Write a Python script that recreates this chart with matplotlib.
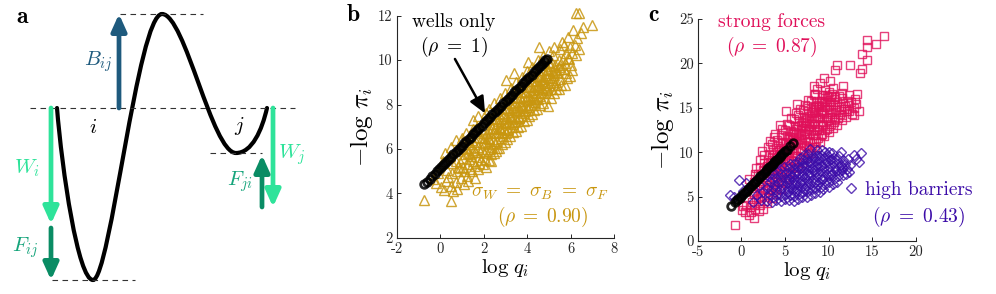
import numpy as np
import matplotlib.pyplot as plt
from matplotlib.path import Path
from matplotlib.patches import PathPatch

plt.rcParams['font.family'] = 'cmr10'
plt.rcParams['mathtext.fontset'] = 'cm'
plt.rcParams['axes.unicode_minus'] = False
plt.rcParams['axes.formatter.use_mathtext'] = False

GOLD = '#c8960f'
PINK = '#e0105a'
PURPLE = '#3c0ca8'
BLUE = '#1e5a7d'
LGREEN = '#2ee39a'
DGREEN = '#0a8c64'

# ---- panel a: schematic landscape (pixel coords) ----
curve_pts = [(57, 108), (62, 170), (78, 280), (93, 280),
             (110, 280), (138, 14), (162, 14),
             (185, 14), (212, 153), (236, 153),
             (252, 153), (262, 130), (267, 108)]
dash_lines = [(120, 203, 14), (30, 295, 108), (210, 262, 153), (52, 135, 280)]
arrows = [  # x, y_start, y_end, colour
    (119, 108, 14, BLUE),
    (51, 108, 224, LGREEN),
    (51, 228, 280, DGREEN),
    (273, 108, 207, LGREEN),
    (262, 207, 155, DGREEN),
]
arrow_labels = [(98, 62, r'$B_{ij}$', BLUE), (27, 168, r'$W_i$', LGREEN),
                (25, 248, r'$F_{ij}$', '#17a57c'), (292, 155, r'$W_j$', LGREEN),
                (240, 182, r'$F_{ji}$', '#17a57c')]

# ---- panel b data ----
wells_b = [(-0.74, 4.42), (-0.62, 4.53), (-0.5, 4.66), (-0.38, 4.78), (-0.27, 4.88),
           (-0.15, 5.0), (-0.05, 5.1), (0.05, 5.2), (0.14, 5.29), (0.22, 5.37),
           (0.3, 5.45), (0.4, 5.55), (0.5, 5.65), (0.6, 5.75), (0.7, 5.85), (0.8, 5.95),
           (0.9, 6.05), (1.0, 6.15), (1.1, 6.25), (1.2, 6.35), (1.3, 6.45), (1.4, 6.55),
           (1.5, 6.65), (1.6, 6.75), (1.7, 6.85), (1.8, 6.95), (1.9, 7.05), (2.0, 7.15),
           (2.1, 7.25), (2.2, 7.35), (2.3, 7.45), (2.4, 7.55), (2.5, 7.65), (2.6, 7.75),
           (2.7, 7.85), (2.8, 7.95), (2.9, 8.05), (3.0, 8.15), (3.1, 8.25), (3.2, 8.35),
           (3.3, 8.45), (3.4, 8.55), (3.5, 8.65), (3.6, 8.75), (3.7, 8.85), (3.8, 8.95),
           (3.9, 9.05), (4.0, 9.15), (4.1, 9.25), (4.2, 9.35), (4.3, 9.45), (4.4, 9.55),
           (4.5, 9.65), (4.6, 9.75), (4.68, 9.83), (4.76, 9.92), (4.84, 9.99), (4.9, 10.05)]

gold_b = [
    (-0.74, 3.7), (0.49, 3.67), (-0.2, 4.45), (0.05, 4.3), (0.25, 4.55), (-0.1, 4.9),
    (0.3, 5.05), (0.15, 4.15), (-0.35, 4.65), (0.35, 4.75), (0.1, 5.45), (0.2, 5.8),
    (0.47, 4.35), (0.52, 4.9), (0.55, 5.35), (0.44, 5.7), (0.58, 4.1), (0.5, 6.1),
    (0.72, 4.5), (0.78, 5.0), (0.74, 5.45), (0.8, 5.9), (0.7, 6.4), (0.77, 4.2), (0.83, 5.2),
    (0.97, 4.7), (1.02, 5.2), (1.05, 5.6), (0.95, 6.0), (1.0, 6.5), (1.08, 4.4), (0.92, 5.4), (1.03, 6.2),
    (1.22, 4.8), (1.28, 5.3), (1.25, 5.8), (1.3, 6.3), (1.2, 6.7), (1.27, 4.55), (1.33, 5.55), (1.18, 6.05),
    (1.47, 5.0), (1.52, 5.45), (1.55, 5.95), (1.45, 6.4), (1.5, 6.9), (1.58, 4.7), (1.42, 5.7), (1.53, 6.2), (1.49, 7.3),
    (1.72, 5.1), (1.78, 5.65), (1.75, 6.1), (1.8, 6.55), (1.7, 7.0), (1.77, 5.35), (1.83, 5.85), (1.68, 6.8), (1.74, 7.5),
    (1.97, 5.3), (2.02, 5.8), (2.05, 6.25), (1.95, 6.7), (2.0, 7.2), (2.08, 5.2), (1.93, 6.0), (2.03, 6.5), (2.1, 7.6), (2.06, 5.55),
    (2.22, 5.5), (2.28, 6.0), (2.25, 6.45), (2.3, 6.9), (2.2, 7.35), (2.33, 5.45), (2.18, 6.2), (2.27, 6.7), (2.24, 7.8), (2.35, 5.75),
    (2.47, 5.8), (2.52, 6.25), (2.55, 6.7), (2.45, 7.1), (2.5, 7.6), (2.58, 5.9), (2.42, 6.45), (2.53, 6.95), (2.49, 8.05), (2.6, 6.05), (2.44, 7.35),
    (2.72, 6.05), (2.78, 6.5), (2.75, 6.9), (2.8, 7.35), (2.7, 7.8), (2.83, 6.2), (2.68, 6.7), (2.77, 7.15), (2.74, 8.3), (2.85, 6.75), (2.71, 7.55),
    (2.97, 6.3), (3.02, 6.7), (3.05, 7.15), (2.95, 7.6), (3.0, 8.05), (3.08, 6.45), (2.93, 6.95), (3.03, 7.4), (2.99, 8.5), (3.1, 6.85), (2.96, 7.85), (3.0, 9.1),
    (3.22, 6.6), (3.28, 7.0), (3.25, 7.45), (3.3, 7.85), (3.2, 8.3), (3.33, 6.75), (3.18, 7.2), (3.27, 7.65), (3.24, 8.75), (3.35, 7.1), (3.21, 8.05),
    (3.47, 6.8), (3.52, 7.25), (3.55, 7.7), (3.45, 8.1), (3.5, 8.55), (3.58, 7.0), (3.42, 7.5), (3.53, 7.9), (3.49, 9.0), (3.6, 7.4), (3.46, 8.3), (3.4, 9.4),
    (3.72, 7.05), (3.78, 7.5), (3.75, 7.95), (3.8, 8.35), (3.7, 8.8), (3.83, 7.25), (3.68, 7.75), (3.77, 8.15), (3.74, 9.25), (3.85, 7.6), (3.71, 8.55),
    (3.97, 7.3), (4.02, 7.75), (4.05, 8.2), (3.95, 8.6), (4.0, 9.05), (4.08, 7.5), (3.93, 8.0), (4.03, 8.4), (3.99, 9.5), (4.1, 7.9), (3.96, 8.8), (4.05, 9.9),
    (4.22, 7.55), (4.28, 8.0), (4.25, 8.45), (4.3, 8.85), (4.2, 9.3), (4.33, 7.75), (4.18, 8.25), (4.27, 8.65), (4.24, 9.7), (4.35, 8.1), (4.21, 9.05),
    (4.47, 7.8), (4.52, 8.25), (4.55, 8.7), (4.45, 9.1), (4.5, 9.55), (4.58, 8.0), (4.42, 8.5), (4.53, 8.9), (4.49, 10.0), (4.6, 8.4), (4.46, 9.3), (4.56, 10.6),
    (4.72, 8.05), (4.78, 8.5), (4.75, 8.95), (4.8, 9.35), (4.7, 9.8), (4.83, 8.3), (4.68, 8.75), (4.77, 9.15), (4.74, 10.2), (4.85, 8.65), (4.71, 9.55),
    (4.97, 7.95), (5.02, 8.5), (5.05, 8.95), (4.95, 9.4), (5.0, 9.9), (5.08, 8.3), (4.93, 8.75), (5.03, 9.2), (4.99, 10.4), (5.1, 8.7), (4.96, 9.6),
    (5.22, 8.5), (5.28, 8.9), (5.25, 9.35), (5.3, 9.8), (5.2, 10.25), (5.33, 8.7), (5.18, 9.1), (5.27, 9.55), (5.24, 10.6), (5.35, 9.0),
    (5.47, 8.7), (5.52, 9.15), (5.55, 9.6), (5.45, 10.0), (5.5, 10.5), (5.58, 8.9), (5.42, 9.4), (5.53, 9.8), (5.6, 10.8),
    (5.72, 8.9), (5.78, 9.4), (5.75, 9.85), (5.8, 10.3), (5.7, 10.7), (5.83, 9.2), (5.68, 9.6), (5.87, 11.05),
    (5.97, 9.3), (6.02, 9.8), (6.05, 10.3), (5.95, 10.6), (6.1, 11.36), (6.08, 9.55), (5.93, 10.05), (5.9, 10.1),
    (6.25, 10.23), (6.2, 10.7), (6.3, 11.0), (6.4, 10.5), (6.25, 12.1), (6.4, 12.1), (7.0, 11.6), (6.5, 11.2), (6.55, 11.5),
    (1.1, 5.0), (1.35, 5.1), (1.6, 5.25), (1.85, 5.5), (2.12, 5.9), (2.38, 6.1), (2.62, 6.35), (2.88, 6.6),
    (3.12, 6.9), (3.38, 7.2), (3.62, 7.45), (3.88, 7.7), (4.12, 8.0), (4.38, 8.3), (4.62, 8.55), (4.88, 8.9),
    (5.12, 9.2), (5.38, 9.45), (1.15, 5.75), (1.4, 6.05), (1.65, 6.3), (1.9, 6.5), (2.15, 6.7), (2.4, 6.95),
    (2.65, 7.25), (2.9, 7.5), (3.15, 7.75), (3.4, 8.0), (3.65, 8.3), (3.9, 8.55), (4.15, 8.8), (4.4, 9.05),
    (4.65, 9.3), (4.9, 9.55), (5.15, 9.85), (2.3, 6.35), (2.8, 6.9), (3.3, 7.35), (3.8, 7.85), (4.3, 8.35),
    (4.8, 8.8), (2.55, 7.4), (3.05, 7.85), (3.55, 8.35), (4.05, 8.8), (4.55, 9.25), (5.05, 9.75),
    (0.9, 5.15), (1.35, 5.75), (1.6, 5.85), (1.95, 6.3), (2.2, 6.5), (2.45, 6.75), (2.7, 7.0), (2.95, 7.2),
    (3.2, 7.5), (3.45, 7.75), (3.7, 8.0), (3.95, 8.25), (4.2, 8.55), (4.45, 8.8), (4.7, 9.05), (4.95, 9.25),
    (5.2, 9.5), (5.45, 9.7), (5.65, 10.05),
]

# ---- panel c data ----
wells_c = [(-1.18, 3.94), (-0.75, 4.35), (-0.5, 4.58), (-0.35, 4.73), (-0.2, 4.88), (0.0, 5.08),
           (0.2, 5.28), (0.4, 5.48), (0.6, 5.68), (0.8, 5.88), (1.0, 6.08), (1.2, 6.28),
           (1.4, 6.48), (1.6, 6.68), (1.8, 6.88), (2.0, 7.08), (2.2, 7.28), (2.4, 7.48),
           (2.6, 7.68), (2.8, 7.88), (3.0, 8.08), (3.2, 8.28), (3.4, 8.48), (3.6, 8.68),
           (3.8, 8.88), (4.0, 9.08), (4.2, 9.28), (4.4, 9.48), (4.6, 9.68), (4.8, 9.88),
           (5.0, 10.08), (5.2, 10.28), (5.6, 10.65), (5.96, 11.0)]

pink_c = [
    (-0.68, 1.8), (0.1, 3.5), (0.4, 3.3), (0.5, 4.1), (0.2, 3.9),
    (0.9, 2.9), (1.1, 3.3), (1.0, 3.8), (1.2, 4.4), (1.3, 5.5), (0.9, 7.0),
    (1.5, 2.6), (1.6, 3.6), (1.4, 4.0), (1.7, 4.7), (1.5, 5.3), (1.6, 6.0), (1.45, 6.7), (1.55, 7.5), (1.7, 8.2),
    (2.0, 3.4), (2.1, 4.1), (1.9, 4.8), (2.2, 5.4), (2.0, 6.1), (2.15, 6.8), (1.95, 7.5), (2.1, 8.3), (2.2, 9.1),
    (2.5, 3.6), (2.6, 4.5), (2.4, 5.1), (2.7, 5.8), (2.5, 6.5), (2.6, 7.2), (2.45, 8.0), (2.55, 8.8), (2.65, 9.7), (2.4, 10.1),
    (3.0, 4.3), (3.1, 5.0), (2.9, 5.7), (3.2, 6.3), (3.0, 7.0), (3.15, 7.7), (2.95, 8.4), (3.1, 9.1), (3.2, 9.8), (3.05, 10.6), (3.3, 11.3),
    (3.5, 4.8), (3.6, 5.5), (3.4, 6.1), (3.7, 6.8), (3.5, 7.5), (3.6, 8.1), (3.45, 8.8), (3.55, 9.5), (3.65, 10.2), (3.5, 10.9), (3.7, 11.7),
    (4.0, 5.3), (4.1, 6.0), (3.9, 6.6), (4.2, 7.3), (4.0, 8.0), (4.15, 8.6), (3.95, 9.3), (4.1, 10.0), (4.2, 10.7), (4.05, 11.4), (3.9, 12.0),
    (4.5, 5.9), (4.6, 6.6), (4.4, 7.2), (4.7, 7.9), (4.5, 8.5), (4.6, 9.2), (4.45, 9.8), (4.55, 10.5), (4.65, 11.2), (4.5, 11.9), (4.7, 12.6), (4.4, 13.1),
    (5.0, 6.5), (5.1, 7.2), (4.9, 7.8), (5.2, 8.5), (5.0, 9.1), (5.15, 9.8), (4.95, 10.4), (5.1, 11.1), (5.2, 11.8), (5.05, 12.5), (5.25, 13.2), (5.1, 14.6),
    (5.5, 7.0), (5.6, 7.7), (5.4, 8.4), (5.7, 9.1), (5.5, 9.7), (5.6, 10.4), (5.45, 11.0), (5.55, 11.7), (5.65, 12.4), (5.5, 13.1), (5.7, 13.8),
    (6.0, 7.6), (6.1, 8.3), (5.9, 9.0), (6.2, 9.6), (6.0, 10.3), (6.15, 11.0), (5.95, 11.6), (6.1, 12.3), (6.2, 13.0), (6.05, 13.7), (6.25, 14.4),
    (6.5, 8.2), (6.6, 8.9), (6.4, 9.6), (6.7, 10.2), (6.5, 10.9), (6.6, 11.5), (6.45, 12.2), (6.55, 12.9), (6.65, 13.5), (6.5, 14.2), (6.7, 14.9), (6.4, 15.4),
    (7.0, 8.8), (7.1, 9.5), (6.9, 10.1), (7.2, 10.8), (7.0, 11.4), (7.15, 12.1), (6.95, 12.7), (7.1, 13.4), (7.2, 14.0), (7.05, 14.7), (7.25, 15.3),
    (7.5, 9.3), (7.6, 10.0), (7.4, 10.7), (7.7, 11.3), (7.5, 12.0), (7.6, 12.6), (7.45, 13.3), (7.55, 13.9), (7.65, 14.6), (7.5, 15.2), (7.7, 15.9),
    (8.0, 9.9), (8.1, 10.6), (7.9, 11.2), (8.2, 11.9), (8.0, 12.5), (8.15, 13.2), (7.95, 13.8), (8.1, 14.5), (8.2, 15.1), (8.05, 15.8), (8.3, 16.4), (8.3, 17.4),
    (8.5, 10.6), (8.6, 11.3), (8.4, 11.9), (8.7, 12.6), (8.5, 13.2), (8.6, 13.9), (8.45, 14.5), (8.55, 15.2), (8.65, 15.8), (8.5, 16.5), (8.7, 17.1),
    (9.0, 11.2), (9.1, 11.9), (8.9, 12.5), (9.2, 13.2), (9.0, 13.8), (9.15, 14.5), (8.95, 15.1), (9.1, 15.8), (9.2, 16.4), (9.07, 17.75),
    (9.5, 11.8), (9.6, 12.5), (9.4, 13.1), (9.7, 13.8), (9.5, 14.4), (9.6, 15.1), (9.45, 15.7), (9.55, 16.4), (9.65, 17.0),
    (10.0, 12.3), (10.1, 13.0), (9.9, 13.6), (10.2, 14.3), (10.0, 14.9), (10.15, 15.6), (9.95, 16.2), (10.1, 16.8),
    (10.5, 12.7), (10.6, 13.4), (10.4, 14.0), (10.7, 14.7), (10.5, 15.3), (10.6, 16.0), (10.45, 16.6), (10.55, 17.2),
    (11.0, 13.1), (11.1, 13.8), (10.9, 14.5), (11.2, 15.1), (11.0, 15.7), (11.15, 16.3), (11.7, 17.4),
    (11.5, 13.6), (11.6, 14.2), (11.4, 14.9), (11.7, 15.5), (11.5, 16.1), (11.6, 16.7),
    (12.0, 14.0), (12.1, 14.6), (11.9, 15.2), (12.2, 15.8), (12.35, 16.4), (12.3, 14.6),
    (12.7, 14.3), (12.9, 15.0), (12.6, 15.6), (13.0, 16.0), (13.3, 16.6), (13.5, 14.6), (12.9, 14.2), (13.2, 15.4),
    (16.4, 23.1), (14.4, 22.6), (15.4, 22.2), (14.4, 21.9), (13.8, 21.1), (14.4, 20.4), (13.6, 18.9),
    (13.8, 19.4), (12.5, 19.8), (11.0, 19.8), (10.8, 19.3), (9.5, 18.3), (10.2, 18.0),
    (3.3, 8.9), (3.8, 9.7), (4.3, 10.3), (4.8, 11.0), (5.3, 11.5), (5.8, 12.0), (6.3, 12.6), (6.8, 13.1),
    (7.3, 13.6), (7.8, 14.1), (8.3, 14.7), (8.8, 15.3), (9.3, 15.8), (9.8, 16.3),
    (3.8, 8.3), (4.3, 9.0), (4.8, 9.6), (5.3, 10.2), (5.8, 10.8), (6.3, 11.3), (6.8, 11.9), (7.3, 12.4),
    (7.8, 12.9), (8.3, 13.5), (8.8, 14.0), (9.3, 14.6), (9.8, 15.1), (10.3, 15.7), (10.8, 16.2),
    (7.8, 10.5), (8.3, 11.0), (8.8, 11.6), (9.3, 12.1), (9.8, 12.6), (10.3, 13.2), (10.8, 13.7),
    (11.3, 14.3), (11.8, 14.9), (12.3, 15.3),
    (2.3, 7.6), (2.8, 8.1), (3.3, 8.0), (3.8, 9.0), (4.3, 9.6), (4.8, 10.2), (5.3, 10.8), (5.8, 11.4),
    (6.3, 12.0), (6.8, 12.5), (7.3, 13.0), (7.8, 13.5), (8.3, 14.1), (8.8, 14.6), (9.3, 15.2), (9.8, 15.7),
    (10.3, 16.3), (4.3, 8.4), (4.8, 8.9), (5.3, 9.4), (5.8, 9.9), (6.3, 10.5), (6.8, 11.0), (7.3, 11.5),
    (7.8, 12.1), (8.3, 12.4), (8.8, 12.9), (9.3, 13.4), (9.8, 13.9), (10.3, 14.5),
]

purple_c = [
    (-1.25, 5.2), (-0.3, 6.9), (0.5, 6.5), (-0.8, 4.9), (0.2, 5.6), (0.9, 6.1), (1.3, 4.4),
    (1.8, 5.2), (1.5, 6.7), (2.3, 4.6), (2.5, 5.5), (2.0, 6.3),
    (3.0, 4.5), (3.2, 5.3), (2.9, 6.0), (3.3, 6.7), (3.1, 7.3),
    (3.5, 4.4), (3.6, 5.0), (3.4, 5.7), (3.7, 6.3), (3.5, 7.0), (3.6, 7.6),
    (4.0, 4.6), (4.1, 5.3), (3.9, 5.9), (4.2, 6.5), (4.0, 7.1), (4.15, 7.8),
    (4.5, 4.5), (4.6, 5.1), (4.4, 5.7), (4.7, 6.3), (4.5, 6.9), (4.6, 7.5), (4.45, 8.1),
    (5.0, 4.7), (5.1, 5.3), (4.9, 5.9), (5.2, 6.5), (5.0, 7.1), (5.15, 7.7), (4.95, 8.3),
    (5.5, 4.6), (5.6, 5.2), (5.4, 5.8), (5.7, 6.4), (5.5, 7.0), (5.6, 7.6), (5.45, 8.2), (5.55, 8.7),
    (6.0, 4.5), (6.1, 5.1), (5.9, 5.7), (6.2, 6.3), (6.0, 6.9), (6.15, 7.5), (5.95, 8.1), (6.1, 8.7),
    (6.5, 4.7), (6.6, 5.3), (6.4, 5.9), (6.7, 6.5), (6.5, 7.1), (6.6, 7.7), (6.45, 8.3), (6.55, 8.9), (6.7, 9.4),
    (7.0, 4.9), (7.1, 5.5), (6.9, 6.1), (7.2, 6.7), (7.0, 7.3), (7.15, 7.9), (6.95, 8.5), (7.1, 9.1), (7.2, 9.7),
    (7.5, 5.0), (7.6, 5.6), (7.4, 6.2), (7.7, 6.8), (7.5, 7.4), (7.6, 8.0), (7.45, 8.6), (7.55, 9.2), (7.65, 9.8),
    (8.0, 5.2), (8.1, 5.8), (7.9, 6.4), (8.2, 7.0), (8.0, 7.6), (8.15, 8.2), (7.95, 8.8), (8.1, 9.4), (7.9, 10.4),
    (8.5, 5.4), (8.6, 6.0), (8.4, 6.6), (8.7, 7.2), (8.5, 7.8), (8.6, 8.4), (8.45, 9.0), (8.55, 9.6), (8.65, 10.2),
    (9.0, 5.5), (9.1, 6.1), (8.9, 6.7), (9.2, 7.3), (9.0, 7.9), (9.15, 8.5), (8.95, 9.1), (9.1, 9.7), (9.2, 10.3),
    (9.4, 5.9), (9.6, 6.4), (9.4, 7.0), (9.7, 7.6), (9.5, 8.2), (9.6, 8.8), (9.45, 9.4), (9.55, 10.0),
    (10.0, 6.1), (10.1, 6.7), (9.9, 7.3), (10.2, 7.9), (10.0, 8.5), (10.15, 9.1), (10.0, 10.06), (9.95, 9.6),
    (10.5, 6.4), (10.6, 7.0), (10.4, 7.6), (10.7, 8.2), (10.5, 8.8), (10.6, 9.4), (10.45, 9.9),
    (10.97, 6.7), (11.1, 7.3), (10.9, 7.9), (11.2, 8.5), (11.0, 9.1), (11.15, 9.6), (11.4, 10.06),
    (11.7, 7.4), (11.6, 8.0), (11.4, 8.6), (11.7, 9.1), (11.5, 8.3),
    (12.0, 7.5), (12.1, 8.1), (11.9, 8.7), (12.2, 9.2), (12.5, 8.55), (12.3, 7.8),
    (12.9, 9.7), (13.7, 9.9), (13.5, 8.9), (12.6, 6.0), (13.2, 9.2),
    (5.3, 5.6), (5.8, 6.0), (6.3, 6.4), (6.8, 6.8), (7.3, 7.2), (7.8, 7.6), (8.3, 8.0), (8.8, 8.3),
    (9.3, 8.6), (9.8, 8.9), (10.3, 9.2), (5.3, 7.0), (5.8, 7.3), (6.3, 7.8), (6.8, 8.2), (7.3, 8.5),
    (7.8, 8.9), (8.3, 9.3), (8.8, 9.6), (6.3, 5.6), (7.3, 6.0), (8.3, 6.5), (9.3, 7.0), (10.3, 7.4),
    (11.3, 7.9),
]


def style_axes(ax, xlim, ylim, xticks, yticks):
    ax.set_xlim(xlim)
    ax.set_ylim(ylim)
    ax.set_xticks(xticks)
    ax.set_yticks(yticks)
    for s in ['top', 'right']:
        ax.spines[s].set_visible(False)
    for s in ['left', 'bottom']:
        ax.spines[s].set_color('#262626')
        ax.spines[s].set_linewidth(0.8)
    ax.tick_params(direction='in', length=3, width=0.7, labelsize=10.5, colors='#262626', pad=3)
    ax.set_xlabel(r'$\log\, q_i$', fontsize=15, labelpad=1)
    ax.set_ylabel(r'$-\log\, \pi_i$', fontsize=18, labelpad=2)


fig = plt.figure(figsize=(9.96, 2.94), dpi=100)

# panel a
ax_a = fig.add_axes([0, 0, 0.3, 1])
ax_a.set_xlim(0, 298.8)
ax_a.set_ylim(294, 0)
ax_a.axis('off')
for x0, x1, y in dash_lines:
    ax_a.plot([x0, x1], [y, y], color='#333333', lw=0.8, ls=(0, (5, 4)))
codes = [Path.MOVETO] + [Path.CURVE4] * (len(curve_pts) - 1)
ax_a.add_patch(PathPatch(Path(curve_pts, codes), fill=False, lw=3, color='black',
                         capstyle='round'))
for x, y0, y1, col in arrows:
    ax_a.annotate('', xy=(x, y1), xytext=(x, y0),
                  arrowprops=dict(arrowstyle='-|>,head_length=1.0,head_width=0.45',
                                  color=col, lw=3.4, shrinkA=0, shrinkB=0))
for x, y, s, col in arrow_labels:
    ax_a.text(x, y, s, color=col, fontsize=15, ha='center', va='center')
ax_a.text(93, 128, r'$i$', fontsize=15, ha='center', va='center')
ax_a.text(239, 126, r'$j$', fontsize=15, ha='center', va='center')
ax_a.text(22, 17, 'a', fontsize=17, family='cmb10', ha='center', va='center')

# panel b
ax_b = fig.add_axes([397 / 996, 1 - 237.7 / 294, 217 / 996, 222 / 294])
gb = np.array(gold_b)
wb = np.array(wells_b)
ax_b.plot(gb[:, 0], gb[:, 1], '^', ms=6.5, mfc='none', mec=GOLD, mew=1.0, alpha=0.85,
          clip_on=False)
ax_b.plot(wb[:, 0], wb[:, 1], 'o', ms=5.5, mfc='none', mec='black', mew=2.0, alpha=0.85)
style_axes(ax_b, (-2, 8), (2, 12), range(-2, 9, 2), range(2, 13, 2))
ax_b.annotate('', xy=(2.06, 7.6), xytext=(0.67, 10.05),
              arrowprops=dict(arrowstyle='-|>,head_length=1.0,head_width=0.45',
                              color='black', lw=1.8, shrinkA=0, shrinkB=0))
ax_b.text(0.63, 11.73, 'wells only', fontsize=14, ha='center', va='center')
ax_b.text(0.63, 10.6, r'$(\rho\ =\ 1)$', fontsize=14, ha='center', va='center')
ax_b.text(4.6, 4.0, r'$\sigma_W\ =\ \sigma_B\ =\ \sigma_F$', fontsize=14, color=GOLD,
          ha='center', va='center')
ax_b.text(4.7, 2.95, r'$(\rho \;=\; 0.90)$', fontsize=14, color=GOLD, ha='center', va='center')
fig.text(353 / 996, 1 - 15 / 294, 'b', fontsize=17, family='cmb10', ha='center', va='center')

# panel c
ax_c = fig.add_axes([697.7 / 996, 1 - 241 / 294, 218 / 996, 222 / 294])
pc = np.array(pink_c)
uc = np.array(purple_c)
wc = np.array(wells_c)
ax_c.plot(pc[:, 0], pc[:, 1], 's', ms=5.5, mfc='none', mec=PINK, mew=1.0, alpha=0.8)
ax_c.plot(uc[:, 0], uc[:, 1], 'D', ms=5, mfc='none', mec=PURPLE, mew=1.0, alpha=0.8)
ax_c.plot(wc[:, 0], wc[:, 1], 'o', ms=5.5, mfc='none', mec='black', mew=2.0, alpha=0.85)
style_axes(ax_c, (-5, 20), (0, 25), range(-5, 21, 5), range(0, 26, 5))
ax_c.text(3.5, 24.7, 'strong forces', fontsize=14, color=PINK, ha='center', va='center')
ax_c.text(3.5, 21.9, r'$(\rho \;=\; 0.87)$', fontsize=14, color=PINK, ha='center', va='center')
ax_c.text(20.3, 5.74, 'high barriers', fontsize=14, color=PURPLE, ha='center', va='center',
          clip_on=False)
ax_c.text(20.3, 2.74, r'$(\rho\ =\ 0.43)$', fontsize=14, color=PURPLE, ha='center',
          va='center', clip_on=False)
fig.text(653 / 996, 1 - 15 / 294, 'c', fontsize=17, family='cmb10', ha='center', va='center')

fig.savefig('out.png', dpi=100)
